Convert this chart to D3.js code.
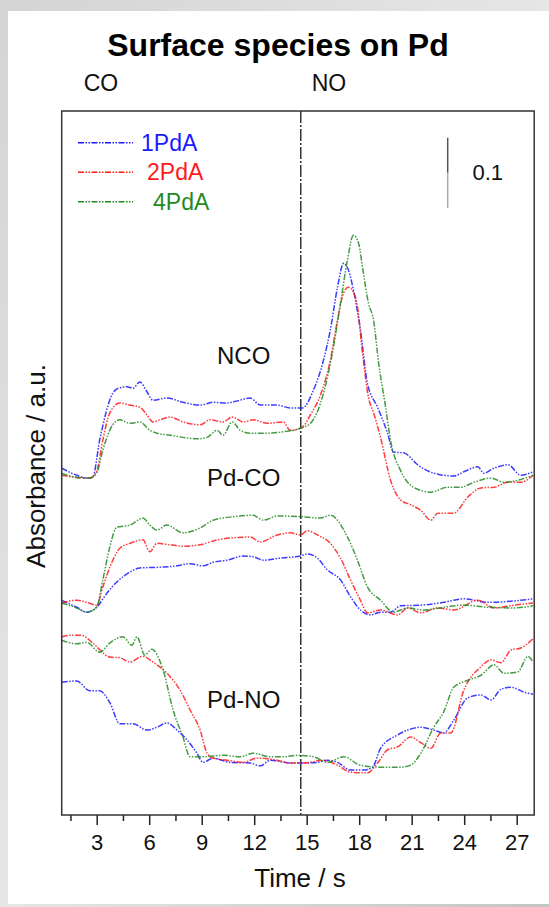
<!DOCTYPE html>
<html>
<head>
<meta charset="utf-8">
<script src="https://cdn.jsdelivr.net/npm/d3@7"></script>
<style>
  html, body { margin: 0; padding: 0; }
  body { width: 549px; height: 907px; overflow: hidden; }
  svg { display: block; font-family: "Liberation Sans", Arial, sans-serif; }
</style>
</head>
<body>
<svg id="chart" width="549" height="907"></svg>
<script>
// Time axis ticks (s)
const majorTicks = [3, 6, 9, 12, 15, 18, 21, 24, 27];
const minorTicks = [1.5, 4.5, 7.5, 10.5, 13.5, 16.5, 19.5, 22.5, 25.5];
const switchTime = 14.66;            // CO -> NO switch
const sampleNames = ["1PdA", "2PdA", "4PdA"];
const sampleColors = ["#1a1aff", "#ff1a1a", "#238a23"];
const speciesLabels = [
  { text: "NCO", t: 11.4, a: 0.643 },
  { text: "Pd-CO", t: 11.4, a: 0.469 },
  { text: "Pd-NO", t: 11.4, a: 0.152 }
];

// [time (s), absorbance (a.u., stacked)]
const nco1 = [[1.0,0.494],[1.86,0.484],[2.43,0.480],[2.77,0.481],[3.17,0.534],[3.92,0.601],[4.15,0.607],[4.72,0.610],[5.07,0.608],[5.47,0.617],[5.87,0.603],[6.21,0.591],[7.01,0.594],[7.93,0.588],[8.91,0.584],[9.65,0.588],[10.45,0.587],[11.03,0.590],[11.77,0.594],[12.35,0.584],[13.32,0.584],[14.06,0.580],[14.76,0.580],[15.38,0.605],[15.96,0.648],[16.35,0.691],[16.76,0.752],[17.11,0.786],[17.39,0.776],[17.67,0.748],[18.07,0.691],[18.47,0.615],[19.05,0.581],[19.62,0.544],[19.96,0.517],[20.54,0.516],[21.34,0.499],[22.26,0.487],[23.40,0.483],[23.98,0.489],[24.78,0.496],[25.12,0.487],[25.70,0.494],[26.50,0.499],[27.24,0.484],[27.93,0.489]];
const nco2 = [[1.0,0.484],[1.86,0.481],[2.60,0.480],[3.00,0.490],[3.35,0.534],[3.75,0.573],[4.32,0.587],[4.89,0.584],[5.47,0.581],[5.87,0.570],[6.21,0.560],[6.61,0.563],[7.19,0.567],[7.93,0.560],[8.91,0.556],[9.48,0.563],[10.22,0.560],[10.74,0.567],[11.37,0.560],[11.94,0.563],[12.75,0.558],[13.66,0.560],[14.06,0.548],[14.76,0.553],[15.21,0.570],[15.78,0.598],[16.35,0.648],[16.76,0.705],[17.11,0.744],[17.39,0.752],[17.67,0.745],[17.90,0.724],[18.19,0.658],[18.53,0.595],[18.82,0.573],[19.22,0.538],[19.79,0.477],[20.36,0.449],[20.94,0.442],[21.52,0.434],[22.09,0.420],[22.49,0.430],[23.40,0.430],[24.21,0.453],[24.95,0.466],[25.70,0.467],[26.50,0.474],[27.24,0.474],[27.93,0.484]];
const nco4 = [[1.0,0.487],[1.86,0.481],[2.60,0.480],[3.00,0.487],[3.35,0.520],[3.92,0.556],[4.32,0.563],[4.89,0.558],[5.47,0.560],[6.04,0.548],[6.44,0.544],[7.19,0.541],[7.93,0.538],[8.73,0.536],[9.31,0.538],[9.88,0.548],[10.22,0.541],[10.74,0.560],[11.20,0.548],[11.77,0.544],[12.75,0.544],[13.66,0.546],[14.64,0.551],[15.21,0.558],[15.96,0.601],[16.53,0.667],[16.93,0.729],[17.33,0.791],[17.67,0.826],[17.96,0.815],[18.24,0.772],[18.53,0.729],[18.82,0.705],[19.11,0.644],[19.51,0.581],[19.79,0.534],[20.36,0.491],[21.11,0.467],[22.09,0.460],[23.06,0.467],[23.80,0.467],[24.55,0.474],[25.53,0.480],[26.27,0.474],[27.07,0.477],[27.93,0.484]];

const co1 = [[1.0,0.306],[1.86,0.296],[2.43,0.289],[3.00,0.296],[3.58,0.316],[4.15,0.332],[4.89,0.346],[5.47,0.352],[6.61,0.353],[7.59,0.355],[8.33,0.358],[9.08,0.355],[9.65,0.360],[10.45,0.363],[11.37,0.369],[11.94,0.368],[12.52,0.363],[13.49,0.366],[14.64,0.369],[15.04,0.372],[15.61,0.366],[16.19,0.349],[16.93,0.335],[17.50,0.311],[18.07,0.292],[18.65,0.285],[19.22,0.289],[19.79,0.289],[20.36,0.298],[21.52,0.299],[22.83,0.303],[23.98,0.308],[25.35,0.303],[26.85,0.305],[27.93,0.308]];
const co2 = [[1.0,0.302],[1.86,0.306],[2.43,0.303],[3.00,0.299],[3.35,0.325],[3.92,0.363],[4.32,0.380],[4.89,0.387],[5.64,0.392],[6.04,0.375],[6.44,0.387],[7.19,0.385],[7.93,0.383],[8.91,0.385],[9.88,0.392],[10.80,0.395],[11.77,0.396],[12.35,0.389],[13.32,0.399],[14.06,0.402],[14.64,0.399],[15.04,0.405],[15.61,0.399],[16.35,0.387],[16.93,0.366],[17.50,0.335],[18.07,0.306],[18.47,0.288],[19.22,0.292],[20.19,0.285],[20.77,0.295],[21.52,0.288],[22.49,0.295],[23.40,0.292],[24.78,0.306],[25.70,0.295],[26.85,0.299],[27.93,0.302]];
const co4 = [[1.0,0.302],[1.86,0.295],[2.43,0.289],[3.00,0.296],[3.35,0.335],[3.75,0.382],[4.15,0.410],[4.89,0.413],[5.64,0.423],[6.04,0.413],[6.44,0.406],[7.01,0.413],[7.93,0.402],[8.91,0.409],[9.65,0.420],[10.80,0.425],[11.94,0.427],[12.52,0.420],[13.32,0.426],[14.64,0.425],[15.78,0.423],[16.35,0.427],[17.33,0.396],[17.90,0.363],[18.47,0.325],[19.22,0.306],[19.96,0.289],[20.77,0.295],[21.69,0.292],[22.83,0.296],[23.98,0.299],[25.35,0.296],[26.85,0.295],[27.93,0.298]];

const no1 = [[1.0,0.189],[1.86,0.191],[2.60,0.177],[3.17,0.177],[3.75,0.160],[4.32,0.130],[5.07,0.130],[5.87,0.121],[6.44,0.125],[7.01,0.131],[7.59,0.121],[8.16,0.107],[8.73,0.088],[9.08,0.075],[9.65,0.081],[10.62,0.075],[11.77,0.074],[12.35,0.070],[12.92,0.078],[14.06,0.074],[14.70,0.074],[15.61,0.075],[16.19,0.078],[16.76,0.075],[17.50,0.064],[18.24,0.064],[18.76,0.068],[19.22,0.095],[20.19,0.114],[20.77,0.121],[21.52,0.125],[22.26,0.121],[22.83,0.117],[23.40,0.135],[24.21,0.167],[24.95,0.171],[25.53,0.164],[26.10,0.179],[26.67,0.182],[27.42,0.175],[27.93,0.172]];
const no2 = [[1.0,0.254],[1.46,0.256],[2.14,0.256],[2.77,0.245],[3.75,0.225],[4.32,0.224],[4.89,0.218],[5.64,0.226],[6.21,0.218],[7.01,0.202],[7.76,0.178],[8.33,0.150],[8.91,0.121],[9.31,0.088],[9.65,0.081],[10.45,0.078],[11.37,0.075],[12.17,0.081],[13.32,0.078],[14.06,0.074],[14.81,0.074],[15.96,0.078],[16.76,0.071],[17.50,0.061],[18.47,0.060],[19.05,0.074],[19.62,0.093],[20.19,0.097],[20.94,0.111],[21.52,0.103],[22.09,0.095],[22.66,0.117],[23.23,0.117],[23.98,0.178],[24.95,0.211],[25.53,0.221],[26.10,0.217],[26.67,0.235],[27.24,0.238],[27.93,0.251]];
const no4 = [[1.0,0.249],[1.86,0.244],[2.43,0.246],[3.17,0.232],[3.75,0.245],[4.49,0.254],[5.01,0.242],[5.30,0.254],[5.75,0.228],[6.15,0.236],[6.79,0.207],[7.36,0.150],[7.93,0.111],[8.33,0.083],[9.08,0.083],[10.22,0.085],[11.20,0.083],[11.94,0.088],[12.92,0.083],[13.66,0.083],[14.46,0.085],[15.38,0.083],[16.19,0.075],[17.11,0.083],[18.07,0.071],[19.39,0.068],[20.36,0.068],[20.94,0.071],[21.52,0.088],[22.26,0.125],[22.83,0.147],[23.40,0.182],[24.21,0.192],[24.95,0.199],[25.70,0.214],[26.27,0.202],[27.07,0.204],[27.64,0.226],[27.93,0.218]];

const scaleBarValue = 0.1;

// ---- layout ----
const W = 549, H = 907;
const plot = { left: 61.7, right: 534.2, top: 111, bottom: 815 };

const svg = d3.select("#chart");

// backdrop: grey surround with a white sheet
const defs = svg.append("defs");
const bg = defs.append("linearGradient").attr("id", "bg")
  .attr("x1", "0").attr("y1", "0").attr("x2", "1").attr("y2", "1");
bg.append("stop").attr("offset", "0").attr("stop-color", "#d4d4d4");
bg.append("stop").attr("offset", "0.5").attr("stop-color", "#e6e6e6");
bg.append("stop").attr("offset", "1").attr("stop-color", "#c4c4c4");
svg.append("rect").attr("width", W).attr("height", H).attr("fill", "url(#bg)");
svg.append("rect").attr("x", 8).attr("y", 11).attr("width", W - 8).attr("height", 893)
  .attr("fill", "#ffffff");

const x = d3.scaleLinear().domain([1, 28]).range([plot.left, plot.right]);
const y = d3.scaleLinear().domain([0, 1.003]).range([plot.bottom, plot.top]);

// title and gas labels
svg.append("text").attr("x", 278).attr("y", 56).attr("text-anchor", "middle")
  .attr("font-size", 32).attr("font-weight", "bold").attr("fill", "#000")
  .text("Surface species on Pd");
svg.append("text").attr("x", 101).attr("y", 91).attr("text-anchor", "middle")
  .attr("font-size", 23).attr("fill", "#111").text("CO");
svg.append("text").attr("x", 329).attr("y", 91).attr("text-anchor", "middle")
  .attr("font-size", 23).attr("fill", "#111").text("NO");

// x axis: minor and major ticks
const axisG = svg.append("g").attr("transform", `translate(0,${plot.bottom})`);
axisG.append("g")
  .call(d3.axisBottom(x).tickValues(minorTicks).tickSize(6).tickFormat(""))
  .call(g => g.select(".domain").remove());
axisG.append("g")
  .call(d3.axisBottom(x).tickValues(majorTicks).tickSize(10).tickPadding(9)
    .tickFormat(d3.format("d")))
  .call(g => g.select(".domain").remove());
axisG.selectAll("line").attr("stroke", "#222").attr("stroke-width", 1.5);
axisG.selectAll("text").attr("font-size", 22).attr("fill", "#111")
  .attr("font-family", "'Liberation Sans', Arial, sans-serif");

svg.append("text").attr("x", 300).attr("y", 887).attr("text-anchor", "middle")
  .attr("font-size", 26).attr("fill", "#111").text("Time / s");
svg.append("text")
  .attr("transform", `translate(45,466) rotate(-90)`)
  .attr("text-anchor", "middle").attr("font-size", 26).attr("fill", "#111")
  .text("Absorbance / a.u.");

// switch marker
svg.append("line")
  .attr("x1", x(switchTime)).attr("x2", x(switchTime))
  .attr("y1", plot.top).attr("y2", plot.bottom)
  .attr("stroke", "#333").attr("stroke-width", 1.5)
  .attr("stroke-dasharray", "12,2,2,2");

// traces
const line = d3.line()
  .x(d => x(d[0])).y(d => y(d[1]))
  .curve(d3.curveMonotoneX);
const traces = [
  [nco1, 0], [nco2, 1], [nco4, 2],
  [co1, 0], [co2, 1], [co4, 2],
  [no1, 0], [no2, 1], [no4, 2]
];
svg.append("g").selectAll("path").data(traces).join("path")
  .attr("d", d => line(d[0]))
  .attr("fill", "none")
  .attr("stroke", d => sampleColors[d[1]])
  .attr("stroke-width", 1.5)
  .attr("stroke-opacity", 0.85)
  .attr("stroke-dasharray", "6,1.5,1.5,1.5,1.5,1.5");

// species labels
svg.append("g").selectAll("text").data(speciesLabels).join("text")
  .attr("x", d => x(d.t)).attr("y", d => y(d.a))
  .attr("text-anchor", "middle").attr("font-size", 24).attr("fill", "#111")
  .text(d => d.text);

// legend
const legend = svg.append("g");
sampleNames.forEach((name, i) => {
  const ly = 142.7 + i * 29.5;
  legend.append("line")
    .attr("x1", 78).attr("x2", 133).attr("y1", ly).attr("y2", ly)
    .attr("stroke", sampleColors[i]).attr("stroke-width", 1.5)
    .attr("stroke-dasharray", "6,1.5,1.5,1.5,1.5,1.5");
  legend.append("text")
    .attr("x", 141 + i * 6).attr("y", ly + 8)
    .attr("font-size", 23).attr("fill", sampleColors[i])
    .text(name);
});

// absorbance scale bar
const barTop = 137.7;
const barLen = y(0) - y(scaleBarValue);
svg.append("line").attr("x1", 447.7).attr("x2", 447.7)
  .attr("y1", barTop).attr("y2", barTop + barLen / 2)
  .attr("stroke", "#555").attr("stroke-width", 1.5);
svg.append("line").attr("x1", 447.7).attr("x2", 447.7)
  .attr("y1", barTop + barLen / 2).attr("y2", barTop + barLen)
  .attr("stroke", "#aaa").attr("stroke-width", 1.5);
svg.append("text").attr("x", 472.5).attr("y", 180)
  .attr("font-size", 22).attr("fill", "#111").text(String(scaleBarValue));

// frame
svg.append("rect")
  .attr("x", plot.left).attr("y", plot.top)
  .attr("width", plot.right - plot.left).attr("height", plot.bottom - plot.top)
  .attr("fill", "none").attr("stroke", "#333").attr("stroke-width", 1.5);
</script>
</body>
</html>
